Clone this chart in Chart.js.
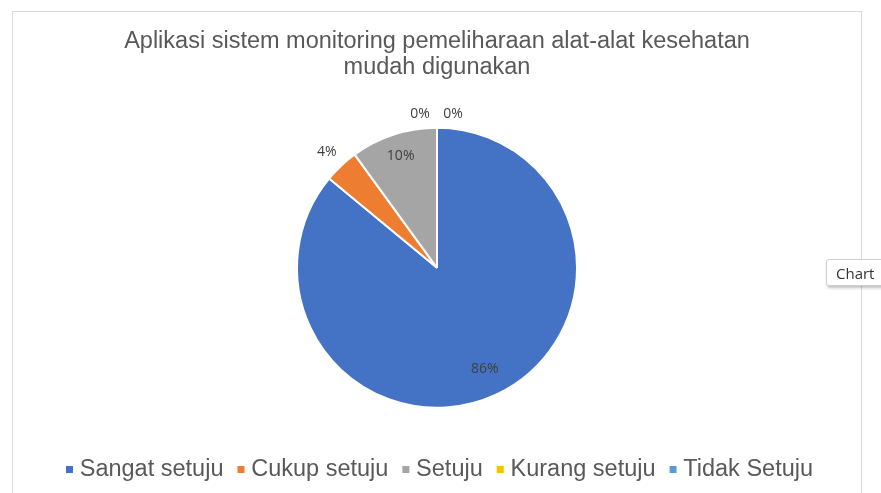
<!DOCTYPE html>
<html>
<head>
<meta charset="utf-8">
<script src="https://cdn.jsdelivr.net/npm/chart.js@4.4.0/dist/chart.umd.min.js"></script>
<style>
  html, body { margin: 0; padding: 0; background: #fff; }
  body { width: 881px; height: 493px; position: relative; overflow: hidden; }
  #box {
    position: absolute; left: 12px; top: 11px; width: 850px; height: 490px;
    border: 1px solid #d9d9d9; box-sizing: border-box;
  }
  #chartWrap { position: absolute; left: 0; top: 0; width: 848px; height: 482px; }
  #tip {
    position: absolute; left: 826px; top: 259px; width: 70px; height: 27px;
    border: 1px solid #d0d0d0; border-radius: 3px; background: #fff;
    box-shadow: 1px 2px 3px rgba(0,0,0,0.25);
    font: 15px "Open Sans", "DejaVu Sans", sans-serif; color: #333;
    line-height: 27px; padding-left: 9px; box-sizing: border-box;
  }
</style>
</head>
<body>
<div id="box"><div id="chartWrap"><canvas id="pieChart"></canvas></div></div>
<div id="tip">Chart</div>
<script>
// 데이터
const categories = ['Sangat setuju', 'Cukup setuju', 'Setuju', 'Kurang setuju', 'Tidak Setuju'];
const shares = [86, 4, 10, 0, 0];
const sliceColors = ['#4472C4', '#ED7D31', '#A5A5A5', '#FFC000', '#5B9BD5'];
const titleLines = ['Aplikasi sistem monitoring pemeliharaan alat-alat kesehatan', 'mudah digunakan'];

// ─ 범례 마커: 작은 사각형을 오른쪽으로 붙여서 텍스트 가까이 보이게
function makeMarker(color) {
    const c = document.createElement('canvas');
    c.width = 21;
    c.height = 7;
    const g = c.getContext('2d');
    g.fillStyle = color;
    g.fillRect(12, 0, 7, 7);
    return c;
}

// ─ 퍼센트 라벨 (엑셀 스타일)
const pctLabels = {
    id: 'pctLabels',
    afterDatasetsDraw(chart) {
        const ctx = chart.ctx;
        const arcs = chart.getDatasetMeta(0).data;
        ctx.save();
        ctx.font = '14px "Open Sans", "Liberation Sans", sans-serif';
        ctx.fillStyle = '#404040';
        ctx.textAlign = 'center';
        ctx.textBaseline = 'middle';
        let zeroIdx = 0;
        arcs.forEach((arc, i) => {
            const v = shares[i];
            const mid = (arc.startAngle + arc.endAngle) / 2;
            const r = arc.outerRadius;
            let x, y;
            if (v === 0) {
                x = arc.x + Math.cos(mid) * (r + 14) + (zeroIdx === 0 ? -17 : 16);
                y = arc.y + Math.sin(mid) * (r + 14);
                zeroIdx++;
            } else if (v < 5) {
                x = arc.x + Math.cos(mid) * r * 1.15;
                y = arc.y + Math.sin(mid) * r * 1.13;
            } else {
                const k = v > 50 ? 0.8 : 0.84;
                x = arc.x + Math.cos(mid) * r * k;
                y = arc.y + Math.sin(mid) * r * k;
            }
            ctx.fillText(v + '%', x, y);
        });
        ctx.restore();
    }
};

document.addEventListener('DOMContentLoaded', () => {
    const ctx = document.getElementById('pieChart').getContext('2d');
    const markers = sliceColors.map(makeMarker);
    new Chart(ctx, {
        type: 'pie',
        data: {
            labels: categories,
            datasets: [{
                data: shares,
                backgroundColor: sliceColors,
                borderColor: '#ffffff',
                borderWidth: 2,
                radius: 140
            }]
        },
        options: {
            responsive: true,
            maintainAspectRatio: false,
            animation: false,
            layout: { padding: { top: 0, bottom: 3, left: 0, right: 0 } },
            plugins: {
                tooltip: { enabled: false },
                title: {
                    display: true,
                    text: titleLines,
                    color: '#595959',
                    font: { family: '"Liberation Sans", Arial, sans-serif', size: 23.5, weight: 'normal', lineHeight: 1.13 },
                    padding: { top: 16, bottom: 6 }
                },
                legend: {
                    position: 'bottom',
                    labels: {
                        color: '#595959',
                        font: { family: '"Liberation Sans", Arial, sans-serif', size: 23.5 },
                        usePointStyle: true,
                        boxWidth: 7,
                        boxHeight: 7,
                        padding: 9,
                        generateLabels(chart) {
                            const items = Chart.controllers.pie.overrides.plugins.legend.labels.generateLabels(chart);
                            return items.map((it, i) => ({ ...it, pointStyle: markers[i] }));
                        }
                    }
                }
            }
        },
        plugins: [pctLabels]
    });
});
</script>
</body>
</html>
